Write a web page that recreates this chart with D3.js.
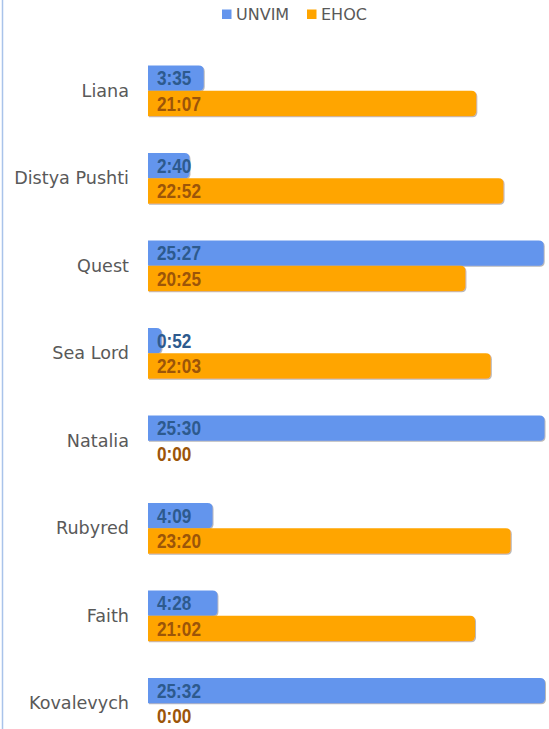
<!DOCTYPE html>
<html>
<head>
<meta charset="utf-8">
<script src="https://cdn.jsdelivr.net/npm/d3@7"></script>
<style>
  body { margin: 0; background: #fff; }
</style>
</head>
<body>
<div id="chart"></div>
<script>
var categories = ["Liana", "Distya Pushti", "Quest", "Sea Lord", "Natalia", "Rubyred", "Faith", "Kovalevych"];
var unvim = ["3:35", "2:40", "25:27", "0:52", "25:30", "4:09", "4:28", "25:32"];
var ehoc  = ["21:07", "22:52", "20:25", "22:03", "0:00", "23:20", "21:02", "0:00"];
var seriesNames = ["UNVIM", "EHOC"];
var seriesColors = ["#6495ED", "#FFA500"];
var labelColors = ["#2d5a8e", "#9c5509"];

function toSec(s) {
  var p = s.split(":");
  return (+p[0]) * 60 + (+p[1]);
}

var rows = categories.map((c, i) => ({
  name: c,
  values: [unvim[i], ehoc[i]]
}));

var width = 549, height = 729;

var svg = d3.select("#chart").append("svg")
  .attr("width", width)
  .attr("height", height);

var defs = svg.append("defs");
defs.append("filter")
  .attr("id", "shadow")
  .attr("x", "-5%").attr("y", "-20%")
  .attr("width", "115%").attr("height", "150%")
  .append("feDropShadow")
    .attr("dx", 1).attr("dy", 1)
    .attr("stdDeviation", 0.4)
    .attr("flood-color", "#888")
    .attr("flood-opacity", 0.6);

// left border line
svg.append("line")
  .attr("x1", 2.5).attr("x2", 2.5)
  .attr("y1", 0).attr("y2", height)
  .attr("stroke", "#a9c3ea")
  .attr("stroke-width", 1.5);

var maxSec = d3.max(unvim.concat(ehoc), toSec);

var xScale = d3.scaleLinear()
  .domain([0, maxSec])
  .range([148, 545]);

var yScale = d3.scaleBand()
  .domain(categories)
  .range([47, 747])
  .paddingInner(0.42)
  .paddingOuter(0.21);

var ySub = d3.scaleBand()
  .domain(seriesNames)
  .range([0, yScale.bandwidth()]);

// category labels
var yAxis = d3.axisLeft(yScale).tickSize(0).tickPadding(0);
var axisG = svg.append("g")
  .attr("transform", "translate(129,0)")
  .call(yAxis);
axisG.select(".domain").remove();
axisG.selectAll("text")
  .attr("dy", "0.35em")
  .style("font-family", "'DejaVu Sans', sans-serif")
  .style("font-size", "17.6px")
  .style("fill", "#595959");

// bar with rounded right end
function barPath(x0, y0, w, h, r) {
  r = Math.min(r, w, h / 2);
  if (w <= 0) return "";
  return "M" + x0 + "," + y0 +
    "H" + (x0 + w - r) +
    "Q" + (x0 + w) + "," + y0 + " " + (x0 + w) + "," + (y0 + r) +
    "V" + (y0 + h - r) +
    "Q" + (x0 + w) + "," + (y0 + h) + " " + (x0 + w - r) + "," + (y0 + h) +
    "H" + x0 + "Z";
}

var groups = svg.append("g")
  .selectAll("g")
  .data(rows)
  .join("g")
    .attr("transform", d => `translate(0,${yScale(d.name)})`);

groups.selectAll("path")
  .data(d => d.values.map((v, j) => ({ key: seriesNames[j], j: j, v: v, s: toSec(v) })))
  .join("path")
    .attr("d", d => barPath(xScale(0), ySub(d.key), xScale(d.s) - xScale(0), ySub.bandwidth(), 5))
    .attr("fill", d => seriesColors[d.j])
    .attr("filter", "url(#shadow)");

// value labels, squeezed to look like a narrow bold face
groups.selectAll("text")
  .data(d => d.values.map((v, j) => ({ key: seriesNames[j], j: j, v: v })))
  .join("text")
    .attr("transform", d => `translate(${xScale(0) + 9},${ySub(d.key) + ySub.bandwidth() / 2}) scale(0.86,1)`)
    .attr("dy", "0.36em")
    .style("font-family", "'Liberation Sans', Arial, sans-serif")
    .style("font-weight", "bold")
    .style("font-size", "20px")
    .style("fill", d => labelColors[d.j])
    .text(d => d.v);

// legend
var legend = svg.append("g")
  .selectAll("g")
  .data(seriesNames)
  .join("g")
    .attr("transform", (d, i) => `translate(${i ? 307 : 222},0)`);

legend.append("rect")
  .attr("x", 0)
  .attr("y", 9.5)
  .attr("width", 9.5)
  .attr("height", 9.5)
  .attr("fill", (d, i) => seriesColors[i]);

legend.append("text")
  .attr("x", 14)
  .attr("y", 14)
  .attr("dy", "0.35em")
  .style("font-family", "'DejaVu Sans', sans-serif")
  .style("font-size", "16px")
  .style("fill", "#595959")
  .text(d => d);
</script>
</body>
</html>
